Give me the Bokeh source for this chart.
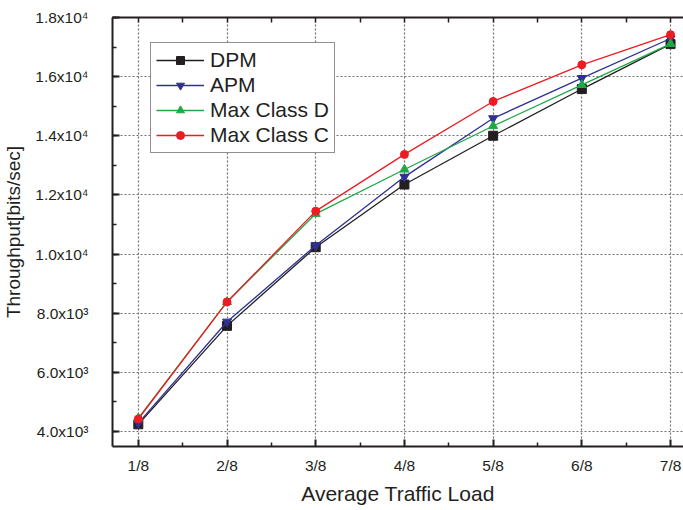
from bokeh.plotting import figure
from bokeh.models import FixedTicker, LinearAxis, Range1d, Legend
from bokeh.embed import file_html
from bokeh.resources import INLINE

loads = [1, 2, 3, 4, 5, 6, 7]
load_labels = ["1/8", "2/8", "3/8", "4/8", "5/8", "6/8", "7/8"]
dpm = [4240, 7570, 10230, 12350, 14000, 15580, 17100]
apm = [4280, 7710, 10290, 12610, 14590, 15950, 17290]
max_d = [4450, 8380, 11360, 12860, 14330, 15720, 17110]
max_c = [4420, 8380, 11450, 13370, 15160, 16400, 17420]
y_ticks = [4000, 6000, 8000, 10000, 12000, 14000, 16000, 18000]
y_tick_labels = ["4.0x10³", "6.0x10³", "8.0x10³", "1.0x10⁴", "1.2x10⁴", "1.4x10⁴", "1.6x10⁴", "1.8x10⁴"]

FONT = "Liberation Sans"
INK = "#231f20"

p = figure(width=683, height=510, output_backend="svg", toolbar_location=None,
           x_range=Range1d(0.709, 7.146), y_range=Range1d(3490, 18000),
           min_border_left=108, min_border_right=0, min_border_top=17, min_border_bottom=64,
           x_axis_label="Average Traffic Load", y_axis_label="Throughput[bits/sec]")
p.outline_line_color = None
p.background_fill_color = "white"

xa = p.xaxis[0]
xa.ticker = FixedTicker(ticks=loads, minor_ticks=[1.5, 2.5, 3.5, 4.5, 5.5, 6.5])
xa.major_label_overrides = {x: l for x, l in zip(loads, load_labels)}
ya = p.yaxis[0]
ya.ticker = FixedTicker(ticks=y_ticks, minor_ticks=list(range(4000, 18001, 1000)))
ya.major_label_overrides = {v: l for v, l in zip(y_ticks, y_tick_labels)}

for ax in (xa, ya):
    ax.axis_line_width = 2
    ax.axis_line_color = INK
    ax.major_tick_in = 7
    ax.major_tick_out = 0
    ax.minor_tick_in = 4
    ax.minor_tick_out = 0
    ax.major_tick_line_width = 2
    ax.minor_tick_line_width = 1.5
    ax.major_tick_line_color = INK
    ax.minor_tick_line_color = INK
    ax.major_label_text_font = FONT
    ax.major_label_text_color = INK
    ax.axis_label_text_font = FONT
    ax.axis_label_text_font_style = "normal"
    ax.axis_label_text_color = INK
xa.major_label_text_font_size = "15.5px"
ya.major_label_text_font_size = "15.5px"
xa.axis_label_text_font_size = "21px"
ya.axis_label_text_font_size = "19px"
xa.major_label_standoff = 10
xa.axis_label_standoff = 5
ya.major_label_standoff = 24
ya.axis_label_standoff = 8

top = LinearAxis(ticker=FixedTicker(ticks=[], minor_ticks=[1, 1.5, 2, 2.5, 3, 3.5, 4, 4.5, 5, 5.5, 6, 6.5, 7]),
                 axis_line_width=2, axis_line_color=INK,
                 major_tick_in=0, major_tick_out=0, minor_tick_in=5, minor_tick_out=0,
                 minor_tick_line_width=1.5, minor_tick_line_color=INK,
                 major_label_standoff=0, axis_label_standoff=0)
p.add_layout(top, "above")

for g in (p.xgrid[0], p.ygrid[0]):
    g.grid_line_color = "#707070"
    g.grid_line_dash = "2 2"
    g.grid_line_width = 1.2

series = [
    ("DPM", dpm, INK, "square"),
    ("APM", apm, "#2e3192", "inverted_triangle"),
    ("Max Class D", max_d, "#1fa846", "triangle"),
    ("Max Class C", max_c, "#ed1c24", "circle"),
]
items = []
for name, vals, col, mk in series:
    l = p.line(loads, vals, line_color=col, line_width=1.3)
    s = p.scatter(loads, vals, marker=mk, size=9 if mk != "circle" else 8,
                  fill_color=col, line_color=col)
    items.append((name, [l, s]))

legend = Legend(items=items, location=(38, 293))
legend.label_text_font = FONT
legend.label_text_font_size = "21px"
legend.label_text_color = INK
legend.glyph_width = 48
legend.glyph_height = 20
legend.label_height = 20
legend.label_standoff = 6
legend.spacing = 1
legend.padding = 5
legend.margin = 0
legend.border_line_color = INK
legend.border_line_width = 1.5
legend.background_fill_alpha = 1
p.add_layout(legend, "center")

open("out.html", "w").write(file_html(p, INLINE))
